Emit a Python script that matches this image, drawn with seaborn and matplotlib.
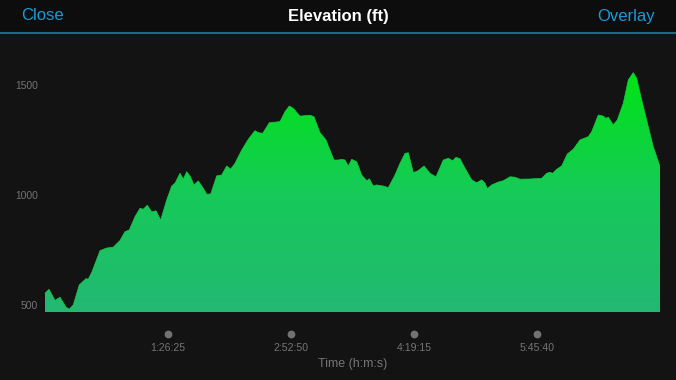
import numpy as np
import pandas as pd
import matplotlib
matplotlib.use("Agg")
import matplotlib.pyplot as plt
import matplotlib.transforms as mtransforms
from matplotlib.colors import LinearSegmentedColormap
import seaborn as sns

# ---- data ----
time_s = [0, 169, 422, 632, 885, 1024, 1193, 1446, 1728, 1825, 1969, 2318, 2601, 2879,
          3161, 3372, 3554, 3794, 4005, 4144, 4312, 4498, 4679, 4877, 5130, 5341, 5480,
          5691, 5830, 5973, 6112, 6281, 6462, 6673, 6816, 6985, 7238, 7449, 7659, 7828,
          8009, 8292, 8570, 8852, 8991, 9177, 9455, 9906, 10117, 10298, 10466, 10749,
          11171, 11339, 11592, 11845, 12014, 12182, 12364, 12507, 12646, 12785, 12929,
          13140, 13350, 13561, 13671, 13840, 13983, 14261, 14472, 14754, 14965, 15176,
          15315, 15526, 15736, 15976, 16229, 16482, 16790, 17001, 17186, 17325, 17494,
          17705, 17987, 18198, 18409, 18548, 18645, 18830, 19108, 19319, 19602, 19812,
          20023, 20445, 20938, 21149, 21288, 21402, 21570, 21781, 22017, 22270, 22552,
          22902, 23045, 23324, 23534, 23648, 23745, 23956, 24124, 24377, 24588, 24799,
          24942, 25153, 25431, 25642, 25925]
elev_ft = [555, 573, 522, 537, 492, 483, 502, 593, 621, 619, 649, 748, 760, 764,
           794, 834, 842, 902, 940, 936, 954, 924, 929, 887, 978, 1041, 1054,
           1099, 1072, 1106, 1087, 1046, 1064, 1031, 1004, 1005, 1087, 1091, 1132, 1118,
           1144, 1204, 1253, 1292, 1283, 1280, 1328, 1333, 1378, 1404, 1393, 1358,
           1362, 1355, 1283, 1250, 1204, 1159, 1159, 1162, 1159, 1132, 1162,
           1151, 1091, 1065, 1074, 1041, 1046, 1041, 1034, 1091, 1144, 1189,
           1192, 1102, 1111, 1132, 1099, 1083, 1159, 1167, 1156, 1171, 1165,
           1122, 1069, 1056, 1069, 1054, 1029, 1046, 1059, 1065, 1083, 1081,
           1072, 1073, 1076, 1099, 1103, 1099, 1117, 1132, 1186, 1208, 1250,
           1265, 1287, 1363, 1358, 1348, 1353, 1318, 1340, 1416, 1522, 1555,
           1529, 1431, 1310, 1219, 1129]
x_ticks = [5185, 10370, 15555, 20740]
x_tick_labels = ["1:26:25", "2:52:50", "4:19:15", "5:45:40"]
y_ticks = [500, 1000, 1500]
y_tick_labels = ["500", "1000", "1500"]

df = pd.DataFrame({"time": time_s, "elev": elev_ft})

# ---- style ----
BG = "#131313"
HEADER = "#0d0d0d"
BLUE = "#1a9ad8"
GRAY = "#747474"
sns.set_theme(style="dark")
plt.rcParams["font.family"] = ["Liberation Sans", "DejaVu Sans"]

fig = plt.figure(figsize=(6.76, 3.80), dpi=100, facecolor=BG)
ax = fig.add_axes([45 / 676, 68 / 380, 615 / 676, 240 / 380])
ax.set_facecolor(BG)
for s in ax.spines.values():
    s.set_visible(False)
ax.grid(False)

ymin, ymax = 470, 1558
ax.set_xlim(0, 25925)
ax.set_ylim(ymin, ymax)

# area with gradient
poly = ax.fill_between(df["time"], df["elev"], ymin, color="none", lw=0)
cmap = LinearSegmentedColormap.from_list("g", ["#23b873", "#16ca58", "#00e414"])
grad = np.linspace(0, 1, 256).reshape(-1, 1)
img = ax.imshow(grad, cmap=cmap, origin="lower", aspect="auto",
                extent=[0, 25925, ymin, ymax], zorder=2)
path = poly.get_paths()[0]
img.set_clip_path(path, transform=ax.transData)
sns.lineplot(data=df, x="time", y="elev", ax=ax, color="#10d040", lw=0.5, zorder=3)

ax.set_xlabel("")
ax.set_ylabel("")
ax.set_yticks(y_ticks)
ax.set_yticklabels(y_tick_labels)
ax.set_xticks(x_ticks)
ax.set_xticklabels(x_tick_labels)
ax.tick_params(axis="y", length=0, pad=5, labelsize=7.4, labelcolor=GRAY)
ax.tick_params(axis="x", length=0, pad=22, labelsize=7.6, labelcolor=GRAY)

# tick dots under axis
trans = mtransforms.blended_transform_factory(ax.transData, ax.transAxes)
ax.plot(x_ticks, [-22 / 240] * len(x_ticks), "o", color="#727272", ms=4.6,
        transform=trans, clip_on=False)

fig.text(353 / 676, 1 - 364 / 380, "Time (h:m:s)", color=GRAY, fontsize=9,
         ha="center", va="center")

# header
fig.patches.append(plt.Rectangle((0, 1 - 33 / 380), 1, 33 / 380, transform=fig.transFigure,
                                 color=HEADER, zorder=0))
fig.add_artist(plt.Line2D([0, 1], [1 - 33 / 380] * 2, transform=fig.transFigure,
                          color="#1a6a8e", lw=1.5))
fig.text(338 / 676, 1 - 16 / 380, "Elevation (ft)", color="white", fontsize=12,
         fontweight="bold", ha="center", va="center")
fig.text(21 / 676, 1 - 16 / 380, "Close", color=BLUE, fontsize=12, ha="left", va="center")
fig.text(655 / 676, 1 - 16 / 380, "Overlay", color=BLUE, fontsize=12, ha="right", va="center")

fig.savefig("out.png", dpi=100, facecolor=BG)
